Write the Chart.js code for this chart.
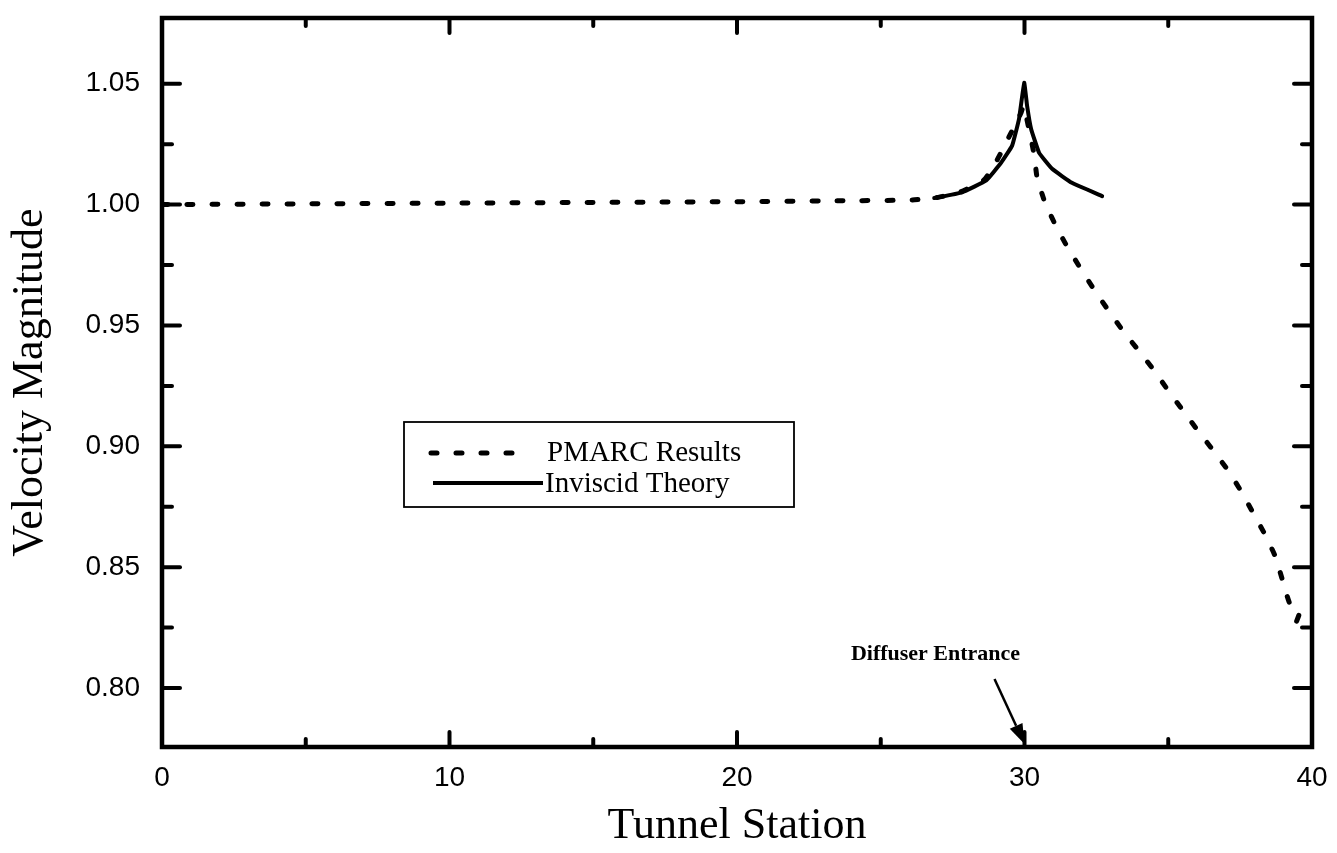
<!DOCTYPE html>
<html>
<head>
<meta charset="utf-8">
<script src="https://cdn.jsdelivr.net/npm/chart.js@4.4.1/dist/chart.umd.min.js"></script>
<style>
  html, body { margin: 0; padding: 0; background: #fff; }
  #wrap { width: 1337px; height: 853px; }
</style>
</head>
<body>
<div id="wrap"><canvas id="myChart" width="1337" height="853"></canvas></div>
<script>
/* ============================== Data ============================== */
// PMARC Results (dashed), tunnel station vs velocity magnitude
const pmarcX = [0, 5, 10, 15, 20, 24, 26.1, 27.0, 27.8, 28.6, 29.05, 29.46, 29.88, 29.97, 30.33, 30.44, 30.72,
                31.1, 31.48, 31.97, 32.42, 32.90, 33.43, 33.95, 34.50, 34.99, 35.51, 36.03, 36.55, 37.07,
                37.53, 37.94, 38.36, 38.71, 38.98, 39.23, 39.58, 39.40, 39.45];
const pmarcY = [1.000, 1.0003, 1.0006, 1.0009, 1.0012, 1.0016, 1.0019, 1.0030, 1.0054, 1.0103, 1.0185, 1.0280, 1.0380, 1.0410, 1.0210, 1.0110, 1.0006,
                0.9910, 0.9827, 0.9732, 0.9649, 0.9565, 0.9477, 0.9399, 0.9315, 0.9232, 0.9148, 0.9065, 0.8985, 0.8902,
                0.8815, 0.8727, 0.8636, 0.8548, 0.8444, 0.8349, 0.8320, 0.8253, 0.8212];

// Inviscid Theory (solid)
const invX = [26.86, 27.83, 28.67, 29.19, 29.57, 29.81, 29.99, 30.09, 30.23, 30.51, 30.96, 31.65, 32.70];
const invY = [1.0027, 1.0051, 1.0100, 1.0174, 1.0244, 1.0355, 1.0504, 1.0409, 1.0313, 1.0214, 1.0148, 1.0090, 1.0035];

// tick labels and tick marks
const xTickLabels = [0, 10, 20, 30, 40];
const yTickLabels = [0.80, 0.85, 0.90, 0.95, 1.00, 1.05];
const xMajorMarks = [10, 20, 30];
const xMinorMarks = [5, 15, 25, 35];
const yMinorMarks = [0.825, 0.875, 0.925, 0.975, 1.025];

const seriesLabels = ['PMARC Results', 'Inviscid Theory'];
const diffuserX = 30;
const diffuserLabel = 'Diffuser Entrance';

/* ============================== Chart ============================== */
document.addEventListener("DOMContentLoaded", () => {
    const ctx = document.getElementById('myChart').getContext('2d');

    const serif = '"Liberation Serif", "Times New Roman", serif';
    const sans = '"Liberation Sans", Arial, sans-serif';

    const toPoints = (xs, ys) => xs.map((v, i) => ({ x: v, y: ys[i] }));

    // frame, inward ticks, legend box and the arrow note
    const extras = {
        id: 'extras',
        afterDatasetsDraw(chart) {
            const c = chart.ctx;
            const a = chart.chartArea;
            const x = chart.scales.x, y = chart.scales.y;
            const seg = (x1, y1, x2, y2) => { c.beginPath(); c.moveTo(x1, y1); c.lineTo(x2, y2); c.stroke(); };

            c.save();
            c.strokeStyle = '#000';
            c.fillStyle = '#000';

            // ticks (pointing inward on all four sides)
            c.lineWidth = 4;
            c.lineCap = 'round';
            xMajorMarks.concat(xMinorMarks).forEach(v => {
                const px = x.getPixelForValue(v);
                const len = xMajorMarks.includes(v) ? 15 : 8;
                seg(px, a.bottom, px, a.bottom - len);
                seg(px, a.top, px, a.top + len);
            });
            yTickLabels.concat(yMinorMarks).forEach(v => {
                const py = y.getPixelForValue(v);
                const len = yTickLabels.includes(v) ? 18 : 10;
                seg(a.left, py, a.left + len, py);
                seg(a.right, py, a.right - len, py);
            });

            // frame
            c.lineCap = 'butt';
            c.lineWidth = 4.5;
            c.strokeRect(a.left, a.top, a.right - a.left, a.bottom - a.top);

            // legend
            const ds = chart.data.datasets;
            c.lineWidth = 1.8;
            c.strokeRect(404, 422, 390, 85);
            c.lineCap = 'round';
            c.lineWidth = ds[0].borderWidth;
            c.setLineDash(ds[0].borderDash);
            seg(431, 453, 527, 453);
            c.setLineDash([]);
            c.lineWidth = ds[1].borderWidth;
            c.lineCap = 'butt';
            seg(433, 483, 543, 483);
            c.font = '29px ' + serif;
            c.textBaseline = 'middle';
            c.textAlign = 'left';
            c.fillText(ds[0].label, 547, 453);
            c.fillText(ds[1].label, 545, 484);

            // diffuser entrance arrow
            const tipX = x.getPixelForValue(diffuserX);
            const tipY = a.bottom - 3;
            const sx = tipX - 30, sy = tipY - 65;
            const ang = Math.atan2(tipY - sy, tipX - sx);
            const hl = 20, hw = 7;
            const bx = tipX - hl * Math.cos(ang), by = tipY - hl * Math.sin(ang);
            c.lineWidth = 2.5;
            seg(sx, sy, bx, by);
            c.beginPath();
            c.moveTo(tipX, tipY);
            c.lineTo(bx + hw * Math.sin(ang), by - hw * Math.cos(ang));
            c.lineTo(bx - hw * Math.sin(ang), by + hw * Math.cos(ang));
            c.closePath();
            c.fill();

            c.font = 'bold 22px ' + serif;
            c.textAlign = 'center';
            c.textBaseline = 'middle';
            c.fillText(diffuserLabel, tipX - 89, 654);
            c.restore();
        }
    };

    const data = {
        datasets: [{
            label: seriesLabels[0],
            data: toPoints(pmarcX, pmarcY),
            showLine: true,
            borderColor: '#000',
            borderWidth: 5,
            borderDash: [6, 19],
            borderCapStyle: 'round',
            pointRadius: 0,
            tension: 0.15
        }, {
            label: seriesLabels[1],
            data: toPoints(invX, invY),
            showLine: true,
            borderColor: '#000',
            borderWidth: 4,
            borderCapStyle: 'round',
            pointRadius: 0,
            tension: 0.1
        }]
    };

    const config = {
        type: 'scatter',
        data: data,
        options: {
            responsive: false,
            animation: false,
            layout: { padding: { left: 0, right: 25, top: 18, bottom: 0 } },
            plugins: {
                legend: { display: false },
                tooltip: { enabled: false }
            },
            scales: {
                x: {
                    type: 'linear',
                    position: 'bottom',
                    min: 0,
                    max: 40,
                    grid: { display: false, drawTicks: false },
                    border: { display: false },
                    afterBuildTicks: (s) => { s.ticks = xTickLabels.map(v => ({ value: v })); },
                    afterFit: (s) => { s.height = 106; s.paddingLeft = 0; s.paddingRight = 0; },
                    ticks: {
                        color: '#000',
                        font: { family: sans, size: 28 },
                        padding: 14,
                        maxRotation: 0,
                        callback: (v) => String(v)
                    },
                    title: {
                        display: true,
                        text: 'Tunnel Station',
                        color: '#000',
                        font: { family: serif, size: 44 },
                        padding: { top: 0, bottom: 0 }
                    }
                },
                y: {
                    type: 'linear',
                    min: 0.7756,
                    max: 1.0772,
                    grid: { display: false, drawTicks: false },
                    border: { display: false },
                    afterBuildTicks: (s) => { s.ticks = yTickLabels.map(v => ({ value: v })); },
                    afterFit: (s) => { s.width = 162; s.paddingTop = 0; s.paddingBottom = 0; },
                    ticks: {
                        color: '#000',
                        font: { family: sans, size: 28 },
                        padding: 22,
                        callback: (v) => Number(v).toFixed(2)
                    },
                    title: {
                        display: true,
                        text: 'Velocity Magnitude',
                        color: '#000',
                        font: { family: serif, size: 44 },
                        padding: { top: 4, bottom: 0 }
                    }
                }
            }
        },
        plugins: [extras]
    };

    const myChart = new Chart(ctx, config);
});
</script>
</body>
</html>
